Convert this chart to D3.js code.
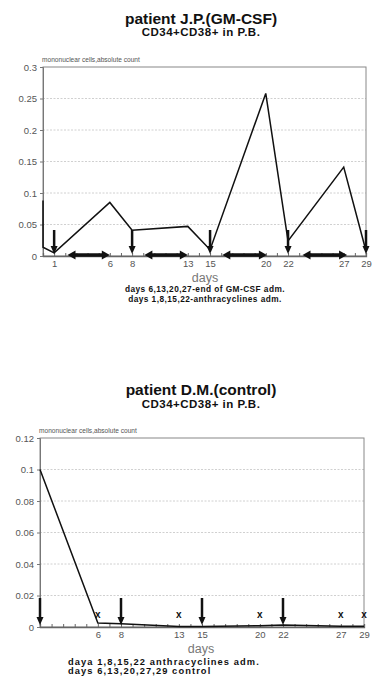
<!DOCTYPE html>
<html><head><meta charset="utf-8">
<script src="https://cdn.jsdelivr.net/npm/d3@7"></script>
<style>
body{margin:0;background:#fff;}
svg{display:block;font-family:"Liberation Sans",Arial,sans-serif;}
</style></head>
<body>
<svg id="c" width="380" height="680"></svg>
<script>
// ---- Chart 1 data (patient J.P., GM-CSF) ----
const topDays   = [0, 0, 1, 6, 8, 13, 15, 20, 22, 27, 29];
const topValues = [0.088, 0.014, 0.005, 0.085, 0.041, 0.047, 0.010, 0.258, 0.024, 0.141, 0.008];
const topArrowDays = [1, 8, 15, 22, 29];
const topGmcsfSpans = [[2.2, 6.0], [9.1, 13.0], [16.1, 20.1], [23.3, 27.3]];
const topXTickLabels = [1, 6, 8, 13, 15, 20, 22, 27, 29];
const topYTicks = [0, 0.05, 0.1, 0.15, 0.2, 0.25, 0.3];
const topYTickLabels = ["0", "0.05", "0.1", "0.15", "0.2", "0.25", "0.3"];

// ---- Chart 2 data (patient D.M., control) ----
const botDays   = [1, 6, 8, 13, 15, 20, 22, 27, 29];
const botValues = [0.1, 0.0025, 0.002, 0.0003, 0.0003, 0.0008, 0.0012, 0.0005, 0.0005];
const botArrowDays = [1, 8, 15, 22];
const botControlDays = [6, 13, 20, 27, 29];
const botXTickLabels = [6, 8, 13, 15, 20, 22, 27, 29];
const botYTicks = [0, 0.02, 0.04, 0.06, 0.08, 0.1, 0.12];
const botYTickLabels = ["0", "0.02", "0.04", "0.06", "0.08", "0.1", "0.12"];

const svg = d3.select("#c");

function chart(o) {
  const g = svg.append("g");
  const x = d3.scaleLinear().domain(o.xDomain).range([o.left, o.right]);
  const y = d3.scaleLinear().domain(o.yDomain).range([o.bottom, o.top]);

  // titles
  g.append("text").attr("x", o.cx).attr("y", o.titleY).attr("text-anchor", "middle")
    .attr("font-size", 15.5).attr("font-weight", "bold").attr("fill", "#111").text(o.title);
  g.append("text").attr("x", o.cx).attr("y", o.titleY + o.subDy).attr("text-anchor", "middle")
    .attr("font-size", 11.5).attr("letter-spacing", 0.5).attr("font-weight", "bold").attr("fill", "#111").text(o.subtitle);
  g.append("text").attr("x", o.left - 1).attr("y", o.top - 5)
    .attr("font-size", 6.6).attr("fill", "#555").text("mononuclear cells,absolute count");

  // grid
  g.append("g").selectAll("line").data(o.yTicks.slice(1, -1)).join("line")
    .attr("x1", o.left).attr("x2", o.right).attr("y1", d => y(d)).attr("y2", d => y(d))
    .attr("stroke", "#c4c4c4").attr("stroke-width", 0.8).attr("stroke-dasharray", "2,1.5");

  // frame
  g.append("rect").attr("x", o.left).attr("y", o.top)
    .attr("width", o.right - o.left).attr("height", o.bottom - o.top)
    .attr("fill", "none").attr("stroke", "#888").attr("stroke-width", 1);

  // y axis
  const ya = g.append("g").attr("transform", `translate(${o.left},0)`)
    .call(d3.axisLeft(y).tickValues(o.yTicks).tickSize(3).tickPadding(3)
      .tickFormat((d, i) => o.yLabels[i]));
  ya.select(".domain").attr("stroke", "#777");
  ya.selectAll(".tick line").attr("stroke", "#777");
  ya.selectAll("text").attr("font-size", 9.5).attr("fill", "#555")
    .attr("font-family", "'Liberation Sans',Arial,sans-serif");

  // x axis minor ticks every day (inside)
  const xa = g.append("g").attr("transform", `translate(0,${o.bottom})`)
    .call(d3.axisBottom(x).tickValues(d3.range(o.xDomain[0], o.xDomain[1] + 1)).tickSize(-3).tickFormat(""));
  xa.select(".domain").attr("stroke", "#666").attr("stroke-width", 1.3);
  xa.selectAll(".tick line").attr("stroke", "#666");
  const xl = g.append("g").attr("transform", `translate(0,${o.bottom})`)
    .call(d3.axisBottom(x).tickValues(o.xLabels).tickSize(0).tickPadding(4));
  xl.select(".domain").remove();
  xl.selectAll("text").attr("font-size", 9.5).attr("fill", "#555")
    .attr("font-family", "'Liberation Sans',Arial,sans-serif");

  g.append("text").attr("x", o.daysX).attr("y", o.bottom + o.daysDy).attr("text-anchor", "middle")
    .attr("font-size", 12.5).attr("fill", "#777").text("days");

  // data line
  const line = d3.line().x(d => x(d[0])).y(d => y(d[1]));
  g.append("path").datum(o.days.map((d, i) => [d, o.values[i]]))
    .attr("d", line).attr("fill", "none").attr("stroke", "#111").attr("stroke-width", 1.5)
    .attr("stroke-linejoin", "miter");

  // down arrows
  o.arrows.forEach(d => {
    const ax = x(d), tip = o.bottom - 2;
    g.append("line").attr("x1", ax).attr("x2", ax).attr("y1", tip - o.arrowLen).attr("y2", tip - 7)
      .attr("stroke", "#111").attr("stroke-width", 2.5);
    g.append("path").attr("d", `M${ax - 3.5},${tip - 8} L${ax + 3.5},${tip - 8} L${ax},${tip} Z`)
      .attr("fill", "#111");
  });

  // double arrows
  (o.spans || []).forEach(s => {
    const x1 = x(s[0]), x2 = x(s[1]), yy = o.bottom - 1;
    g.append("line").attr("x1", x1 + 6).attr("x2", x2 - 6).attr("y1", yy).attr("y2", yy)
      .attr("stroke", "#111").attr("stroke-width", 3.5);
    g.append("path").attr("d", `M${x1},${yy} L${x1 + 8},${yy - 4.5} L${x1 + 8},${yy + 4.5} Z`).attr("fill", "#111");
    g.append("path").attr("d", `M${x2},${yy} L${x2 - 8},${yy - 4.5} L${x2 - 8},${yy + 4.5} Z`).attr("fill", "#111");
  });

  // control markers
  (o.marks || []).forEach(d => {
    g.append("text").attr("x", x(d)).attr("y", o.bottom - 9).attr("text-anchor", "middle")
      .attr("font-size", 10).attr("font-weight", "bold").attr("fill", "#111").text("x");
  });

  // footnotes
  o.notes.forEach((t, i) => {
    g.append("text").attr("x", o.noteX).attr("y", o.noteY + i * o.noteDy).attr("text-anchor", o.noteAnchor)
      .attr("font-size", o.noteSize).attr("letter-spacing", o.noteLs)
      .attr("font-weight", "bold").attr("fill", "#111").text(t);
  });
}

chart({
  title: "patient J.P.(GM-CSF)", subtitle: "CD34+CD38+ in P.B.", cx: 201, titleY: 24, subDy: 12,
  left: 43, right: 366, top: 67, bottom: 256,
  xDomain: [0, 29], yDomain: [0, 0.3],
  yTicks: topYTicks, yLabels: topYTickLabels, xLabels: topXTickLabels,
  days: topDays, values: topValues, arrows: topArrowDays, arrowLen: 24,
  spans: topGmcsfSpans, daysX: 205, daysDy: 26,
  notes: ["days 6,13,20,27-end of GM-CSF adm.", "days 1,8,15,22-anthracyclines adm."],
  noteX: 205, noteY: 292, noteDy: 9.5, noteAnchor: "middle", noteSize: 8.3, noteLs: 0.45
});

chart({
  title: "patient D.M.(control)", subtitle: "CD34+CD38+ in P.B.", cx: 201, titleY: 395, subDy: 13,
  left: 40, right: 364, top: 438, bottom: 627,
  xDomain: [1, 29], yDomain: [0, 0.12],
  yTicks: botYTicks, yLabels: botYTickLabels, xLabels: botXTickLabels,
  days: botDays, values: botValues, arrows: botArrowDays, arrowLen: 27,
  marks: botControlDays, daysX: 201, daysDy: 26,
  notes: ["daya 1,8,15,22 anthracyclines adm.", "days 6,13,20,27,29 control"],
  noteX: 68, noteY: 665, noteDy: 8.5, noteAnchor: "start", noteSize: 9.3, noteLs: 1.1
});
</script>
</body></html>
